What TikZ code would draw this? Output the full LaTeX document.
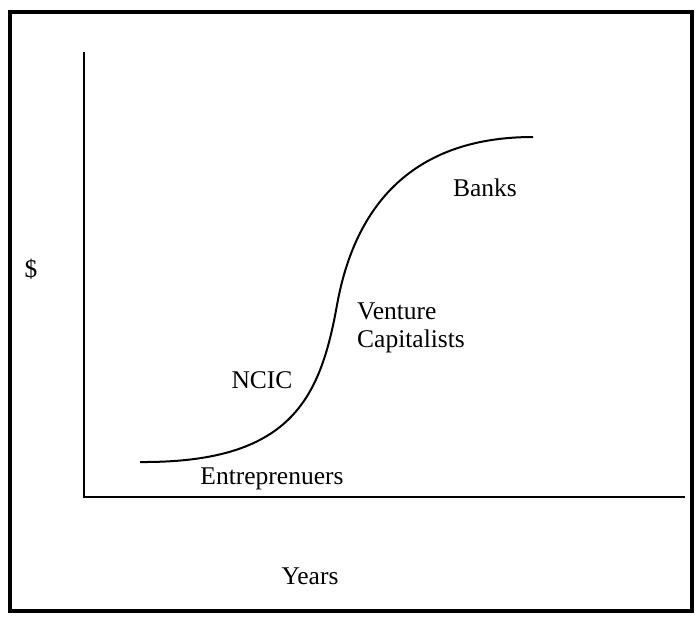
\documentclass[tikz,border=0pt]{standalone}
\usepackage{fontspec}
\setmainfont{Liberation Serif}
\begin{document}
\begin{tikzpicture}[x=1pt,y=-1pt,
  lbl/.style={inner sep=0pt, font=\fontsize{25.5}{28}\selectfont},
  axis/.style={line width=2pt},
  curve/.style={line width=2pt}]
\useasboundingbox (0,0) rectangle (696,621);
\draw[line width=4.5pt] (10,12) rectangle (692,611);
\coordinate (o) at (84,497);
\coordinate (ytop) at (84,52);
\coordinate (xend) at (685,497);
\draw[axis] (ytop) -- (o) -- (xend);
\coordinate (cs) at (140,462);
\coordinate (cm) at (337,305);
\coordinate (ce) at (533,137);
\draw[curve] (cs) .. controls (290,463) and (320,400) .. (cm)
  .. controls (355,205) and (413,137) .. (ce);
\node[lbl] (dollar) at (31,269) {\$};
\node[lbl] (years) at (310,576) {Years};
\node[lbl] (entre) at (272,479) {Entreprenuers};
\node[lbl] (ncic) at (262,380) {NCIC};
\node[lbl, align=left, anchor=north west] (vc) at (357,303) {Venture\\Capitalists};
\node[lbl] (banks) at (485,188) {Banks};
\end{tikzpicture}
\end{document}
